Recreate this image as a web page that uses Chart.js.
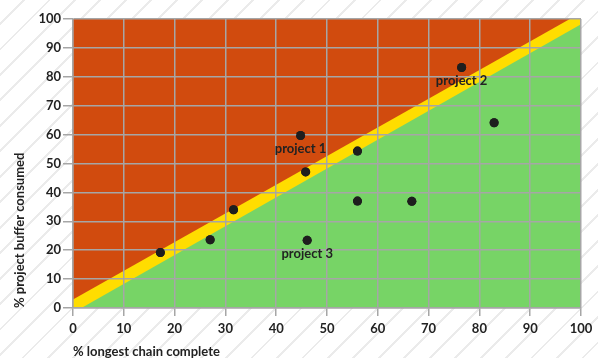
<!DOCTYPE html>
<html>
<head>
<meta charset="utf-8">
<script src="https://cdn.jsdelivr.net/npm/chart.js@4.4.1/dist/chart.umd.min.js"></script>
<style>
  body { margin: 0; }
  #wrap {
    width: 598px; height: 358px;
    background: repeating-linear-gradient(135deg, #ffffff 0px, #ffffff 16px, #ebebeb 16px, #ebebeb 18px);
  }
</style>
</head>
<body>
<div id="wrap"><canvas id="myChart"></canvas></div>
<script>
// projects: % longest chain complete vs % buffer consumed
var chainDone = [17.2, 27.0, 31.6, 45.8, 44.8, 46.1, 56.0, 56.0, 66.7, 76.5, 82.9];
var bufferUsed = [19.2, 23.6, 34.0, 47.1, 59.7, 23.4, 54.3, 37.0, 36.9, 83.2, 64.1];
var pointNames = ['', '', '', '', 'project 1', 'project 3', '', '', '', 'project 2', ''];

// zone boundaries
var redZone = [{x: 0, y: 100}, {x: 100, y: 100}];
var yellowTop = [{x: 0, y: 2.9}, {x: 97.8, y: 100}, {x: 100, y: 100}];
var greenTop = [{x: 1.65, y: 0}, {x: 100, y: 98.2}];

var ticks = [0, 10, 20, 30, 40, 50, 60, 70, 80, 90, 100];

var gridColor = '#a6a6a6';
var font = { family: 'Lato', weight: 'bold', size: 13 };

var pts = chainDone.map(function (v, i) { return { x: v, y: bufferUsed[i] }; });

function zone(data, color) {
  return {
    type: 'line',
    data: data,
    backgroundColor: color,
    borderWidth: 0,
    pointRadius: 0,
    tension: 0,
    fill: 'start'
  };
}

// dots go on top of the grid, names under the dots
var dotsOnTop = {
  id: 'dotsOnTop',
  afterDraw: function (chart) {
    var meta = chart.getDatasetMeta(0);
    meta.controller.draw();
    var ctx = chart.ctx;
    ctx.save();
    ctx.font = 'bold 13px Lato';
    ctx.fillStyle = '#222';
    ctx.textAlign = 'center';
    ctx.textBaseline = 'middle';
    meta.data.forEach(function (p, i) {
      if (pointNames[i]) ctx.fillText(pointNames[i], p.x, p.y + 13);
    });
    ctx.restore();
  }
};

var ctx = document.getElementById('myChart');
var myChart = new Chart(ctx, {
  type: 'scatter',
  data: {
    datasets: [
      {
        data: pts,
        backgroundColor: '#1e1e1e',
        borderWidth: 0,
        pointRadius: 4.5,
        pointHoverRadius: 4.5
      },
      zone(greenTop, '#77d466'),
      zone(yellowTop, '#ffdd00'),
      zone(redZone, '#d14b0e')
    ]
  },
  plugins: [dotsOnTop],
  options: {
    responsive: true,
    maintainAspectRatio: false,
    animation: false,
    events: [],
    layout: { padding: { left: 0, right: 17, top: 19, bottom: 0 } },
    plugins: { legend: { display: false }, tooltip: { enabled: false } },
    scales: {
      x: {
        type: 'linear',
        min: 0, max: 100,
        afterFit: function (s) { s.height = 50; },
        afterBuildTicks: function (s) { s.ticks = ticks.map(function (v) { return { value: v }; }); },
        grid: { color: gridColor, lineWidth: 1.5, tickLength: 8, z: 1 },
        border: { color: gridColor, width: 1.5, z: 1 },
        ticks: { color: '#222', font: font, padding: 5, maxRotation: 0 },
        title: {
          display: true, text: '% longest chain complete', align: 'start',
          color: '#222', font: { family: 'Lato', weight: 'bold', size: 13, lineHeight: 1 },
          padding: { top: 0, bottom: 0 }
        }
      },
      y: {
        type: 'linear',
        min: 0, max: 100,
        afterFit: function (s) { s.width = 73; },
        afterBuildTicks: function (s) { s.ticks = ticks.map(function (v) { return { value: v }; }); },
        grid: { color: gridColor, lineWidth: 1.5, tickLength: 10, z: 1 },
        border: { color: gridColor, width: 1.5, z: 1 },
        ticks: { color: '#222', font: font, padding: 2 },
        title: {
          display: true, text: '% project buffer consumed', align: 'start',
          color: '#222', font: { family: 'Lato', weight: 'bold', size: 13, lineHeight: 1 },
          padding: { top: 13, bottom: 0 }
        }
      }
    }
  }
});
</script>
</body>
</html>
